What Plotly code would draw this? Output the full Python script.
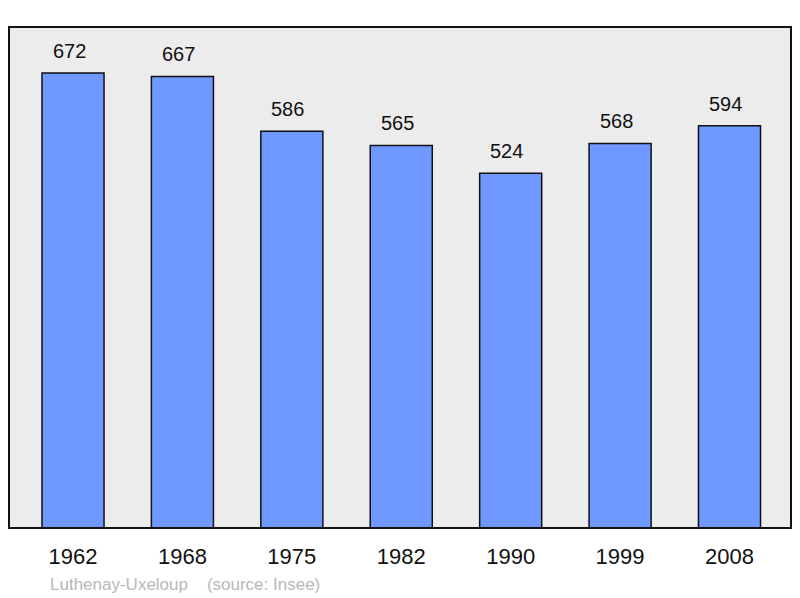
import plotly.graph_objects as go

years = ["1962", "1968", "1975", "1982", "1990", "1999", "2008"]
population = [672, 667, 586, 565, 524, 568, 594]
place = "Luthenay-Uxeloup"
source = "(source: Insee)"

idx = list(range(len(years)))

fig = go.Figure()
fig.add_trace(go.Bar(
    x=idx, y=population, width=0.567,
    marker=dict(color="#7099ff", line=dict(color="#111111", width=1.5)),
    hoverinfo="skip",
))

for i, v in zip(idx, population):
    fig.add_annotation(x=i, y=v, text=str(v), showarrow=False,
                       yanchor="bottom", yshift=9, xshift=-4,
                       font=dict(family="Liberation Sans, Arial", size=20, color="#111111"))

fig.add_annotation(xref="paper", yref="paper", x=0.0505, y=-0.1118, xanchor="left", yanchor="middle",
                   text=place + "&nbsp;&nbsp;&nbsp;&nbsp;" + source, showarrow=False,
                   font=dict(family="Liberation Sans, Arial", size=17, color="#b8b8b8"))

fig.add_shape(type="rect", xref="paper", yref="paper", x0=0, y0=0, x1=1, y1=1,
              line=dict(color="#111111", width=2), layer="above")

fig.update_layout(
    width=800, height=598,
    margin=dict(l=9, r=9, t=27, b=70),
    paper_bgcolor="white", plot_bgcolor="#ececec",
    showlegend=False,
    xaxis=dict(range=[-0.585, 6.562], showgrid=False, zeroline=False,
               tickmode="array", tickvals=idx, ticktext=years,
               ticks="", ticklabelstandoff=13,
               tickfont=dict(family="Liberation Sans, Arial", size=22, color="#111111")),
    yaxis=dict(range=[0, 740], showgrid=False, zeroline=False, showticklabels=False, ticks=""),
)

fig.write_html("out.html", config={"displayModeBar": False},
               post_script="document.body.style.margin='0';document.body.style.overflow='hidden';")
